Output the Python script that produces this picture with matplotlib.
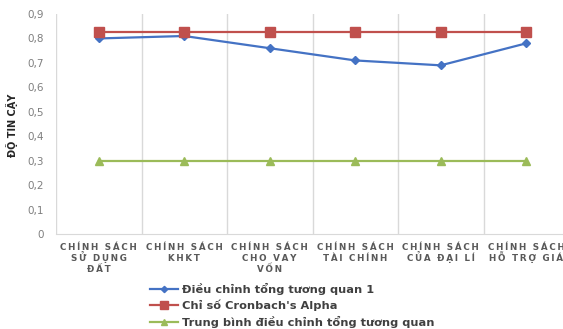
import numpy as np
import matplotlib.pyplot as plt

# categories on the x axis
nhom = ["CHÍNH SÁCH\nSỬ DỤNG\nĐẤT", "CHÍNH SÁCH\nKHKT", "CHÍNH SÁCH\nCHO VAY\nVỐN",
        "CHÍNH SÁCH\nTÀI CHÍNH", "CHÍNH SÁCH\nCỦA ĐẠI LÍ", "CHÍNH SÁCH\nHỖ TRỢ GIÁ"]

dieu_chinh = [0.80, 0.81, 0.76, 0.71, 0.69, 0.78]
cronbach = [0.825, 0.825, 0.825, 0.825, 0.825, 0.825]
trung_binh = [0.30, 0.30, 0.30, 0.30, 0.30, 0.30]

ten_chuoi = ["Điều chỉnh tổng tương quan 1", "Chỉ số Cronbach's Alpha",
             "Trung bình điều chỉnh tổng tương quan"]

yticks = np.arange(0, 1.0, 0.1)

# spread letters out a bit like the original office chart
def gian_chu(s):
    return "\u2009".join(s)

fig = plt.figure(figsize=(5.63, 3.29), dpi=100)
ax_h = 220  # axes height in px
ax = fig.add_axes([56/563, 1-234/329, 513/563, ax_h/329])

x = np.arange(len(nhom))
ax.plot(x, dieu_chinh, color="#4472C4", marker="D", markersize=4, lw=1.6, label=ten_chuoi[0])
ax.plot(x, cronbach, color="#C0504D", marker="s", markersize=6.5, lw=1.6, label=ten_chuoi[1])
ax.plot(x, trung_binh, color="#9BBB59", marker="^", markersize=6, lw=1.6, label=ten_chuoi[2])

ax.set_xlim(-0.5, len(nhom) - 0.5)
ax.set_ylim(0, 0.9)
ax.set_yticks(yticks)
ax.set_yticklabels([("%.1f" % v).replace(".", ",") if v > 0 else "0" for v in yticks],
                   color="#7F7F7F", fontsize=7.5)
ax.set_xticks(x)
ax.set_xticklabels([])
ax.set_xticks(np.arange(-0.5, len(nhom)), minor=True)
ax.tick_params(axis="both", which="both", length=0)
ax.tick_params(axis="y", pad=9)
ax.grid(True, which="minor", axis="x", color="#D9D9D9", lw=1)
for k in ["top", "right", "left"]:
    ax.spines[k].set_visible(False)
ax.spines["bottom"].set_color("#D9D9D9")

# category labels, one line at a time on fixed baselines so the spacing stays even
for i, ten in enumerate(nhom):
    for j, dong in enumerate(ten.split("\n")):
        ax.text(x[i], -(16.5 + 10.7*j)/ax_h, gian_chu(dong), transform=ax.get_xaxis_transform(),
                ha="center", va="baseline", fontsize=6.3, fontweight="bold", color="#595959")

fig.text(12/563, 1-125/329, "ĐỘ TIN CẬY", rotation=90, ha="center", va="center",
         fontsize=7, fontweight="bold", color="#262626", family="Liberation Sans Narrow")

fig.legend(loc="upper left", bbox_to_anchor=(150/563, 1-283/329), frameon=False,
           prop={"size": 8.2, "weight": "bold"}, handlelength=2.5, handletextpad=0.3,
           labelspacing=0.4, markerscale=0.8,
           borderaxespad=0, borderpad=0, labelcolor="#404040")

fig.savefig("out.png", dpi=100)
